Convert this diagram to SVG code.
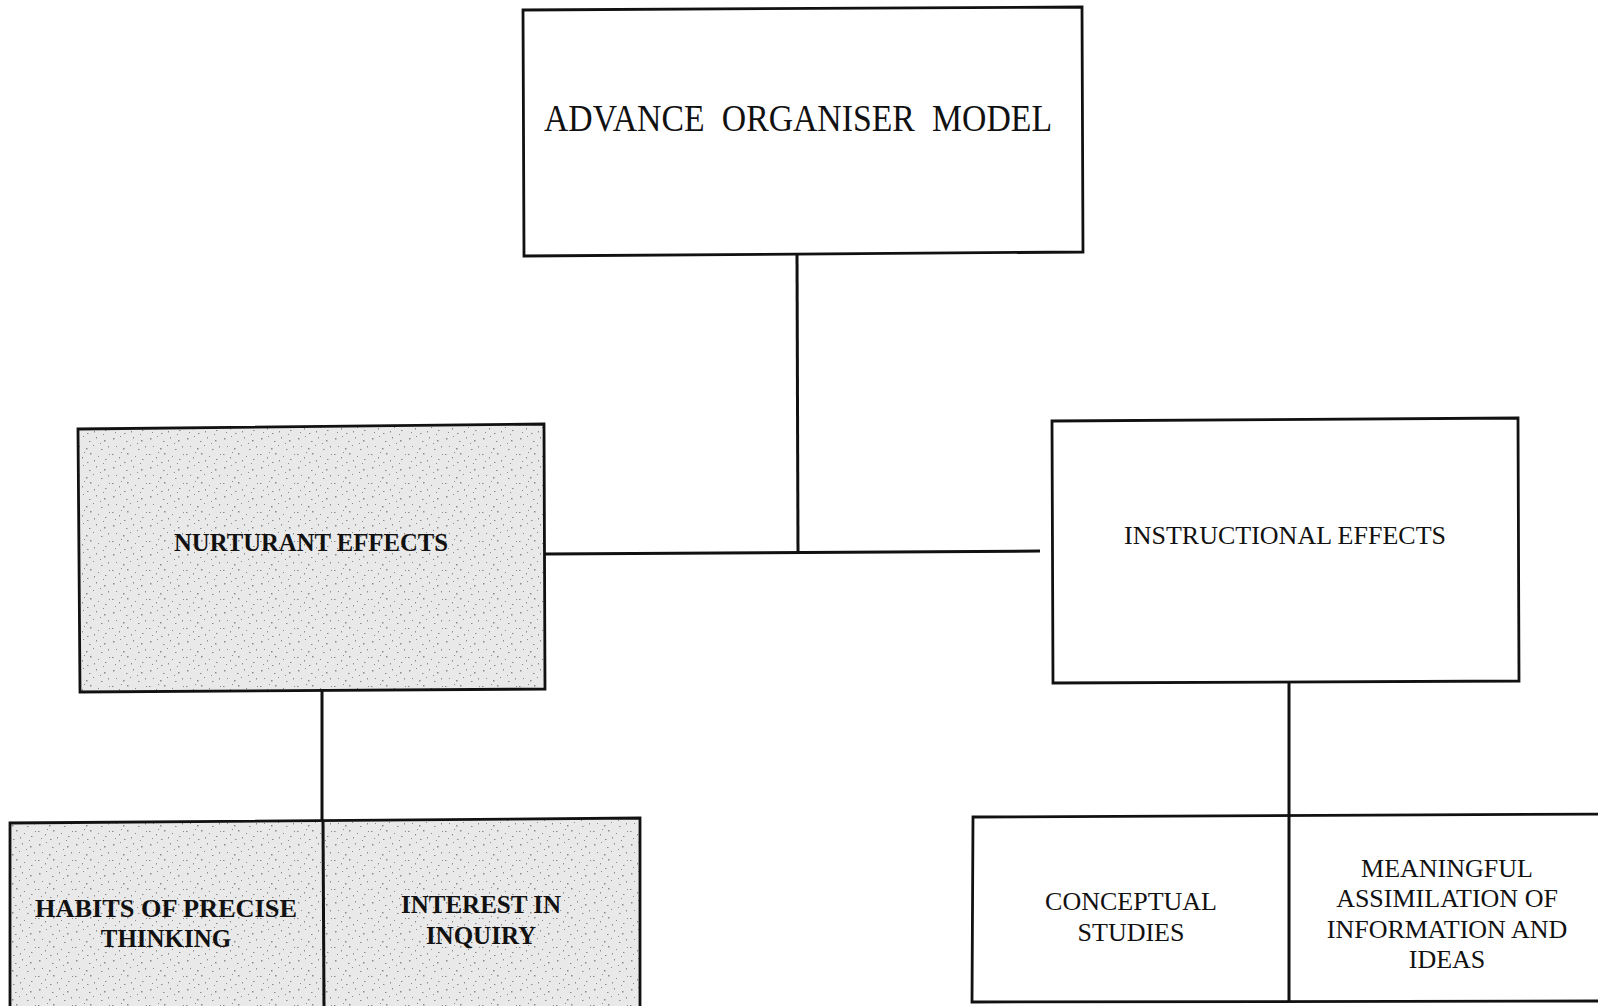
<svg xmlns="http://www.w3.org/2000/svg" width="1598" height="1006" viewBox="0 0 1598 1006">
<style>
  .box { fill: #ffffff; stroke: #111; stroke-width: 2.8; }
  .shaded { fill: url(#stipple); stroke: #111; stroke-width: 2.8; }
  .conn { stroke: #111; stroke-width: 3; fill: none; }
  .t { font-family: "Liberation Serif", "Times New Roman", serif; fill: #111; text-anchor: middle; }
  .big { font-size: 38px; word-spacing: 10px; }
  .reg { font-size: 26px; }
  .bold { font-size: 25px; font-weight: bold; }
</style>
<defs>
  <pattern id="stipple" width="37" height="29" patternUnits="userSpaceOnUse">
    <rect width="37" height="29" fill="#e9e9e9"/>
    <g fill="#8a8a8a">
      <rect x="2" y="3" width="1.5" height="1.5"/>
      <rect x="9" y="1" width="1" height="1"/>
      <rect x="15" y="6" width="1.5" height="1"/>
      <rect x="22" y="2" width="1" height="1.5"/>
      <rect x="30" y="5" width="1.5" height="1.5"/>
      <rect x="5" y="11" width="1" height="1"/>
      <rect x="12" y="13" width="1.5" height="1.5"/>
      <rect x="19" y="10" width="1" height="1"/>
      <rect x="27" y="14" width="1.5" height="1"/>
      <rect x="34" y="11" width="1" height="1.5"/>
      <rect x="1" y="19" width="1.5" height="1"/>
      <rect x="8" y="22" width="1" height="1.5"/>
      <rect x="16" y="18" width="1.5" height="1.5"/>
      <rect x="24" y="21" width="1" height="1"/>
      <rect x="31" y="24" width="1.5" height="1"/>
      <rect x="4" y="26" width="1" height="1"/>
      <rect x="13" y="27" width="1.5" height="1"/>
      <rect x="20" y="25" width="1" height="1.5"/>
      <rect x="35" y="19" width="1" height="1"/>
      <rect x="26" y="8" width="1" height="1"/>
      <rect x="10" y="17" width="1" height="1"/>
      <rect x="29" y="28" width="1" height="1"/>
    </g>
  </pattern>
</defs>

<g id="connectors">
  <line class="conn" x1="797" y1="254" x2="798" y2="552"/>
  <line class="conn" x1="545" y1="554" x2="1040" y2="551"/>
  <line class="conn" x1="322" y1="689" x2="322" y2="821"/>
  <line class="conn" x1="1289" y1="683" x2="1289" y2="814"/>
</g>

<g id="node-advance">
  <path class="box" d="M523,10 L1082,7 L1083,252 L524,256 Z"/>
  <text class="t big" x="798" y="131" textLength="508" lengthAdjust="spacingAndGlyphs">ADVANCE ORGANISER MODEL</text>
</g>

<g id="node-nurturant">
  <path class="shaded" d="M78,429 L544,424 L545,689 L80,692 Z"/>
  <text class="t bold" x="311" y="551" textLength="274" lengthAdjust="spacingAndGlyphs">NURTURANT EFFECTS</text>
</g>

<g id="node-instructional">
  <path class="box" d="M1052,421 L1518,418 L1519,681 L1053,683 Z"/>
  <text class="t reg" x="1285" y="544" textLength="322" lengthAdjust="spacingAndGlyphs">INSTRUCTIONAL EFFECTS</text>
</g>

<g id="node-nurturant-outcomes">
  <path class="shaded" d="M10,1010 L10,823 L640,818 L640,1010"/>
  <line class="conn" x1="323" y1="820" x2="324" y2="1006"/>
  <g id="node-habits">
    <text class="t bold" x="166" y="917" textLength="262" lengthAdjust="spacingAndGlyphs">HABITS OF PRECISE</text>
    <text class="t bold" x="166" y="947">THINKING</text>
  </g>
  <g id="node-interest">
    <text class="t bold" x="481" y="913">INTEREST IN</text>
    <text class="t bold" x="481" y="944">INQUIRY</text>
  </g>
</g>

<g id="node-instructional-outcomes">
  <path class="box" d="M1610,814 L973,817 L972,1002 L1610,1001"/>
  <line class="conn" x1="1289" y1="814" x2="1289" y2="1001"/>
  <g id="node-conceptual">
    <text class="t reg" x="1131" y="910">CONCEPTUAL</text>
    <text class="t reg" x="1131" y="941">STUDIES</text>
  </g>
  <g id="node-meaningful">
    <text class="t reg" x="1447" y="877">MEANINGFUL</text>
    <text class="t reg" x="1447" y="907">ASSIMILATION OF</text>
    <text class="t reg" x="1447" y="938">INFORMATION AND</text>
    <text class="t reg" x="1447" y="968">IDEAS</text>
  </g>
</g>
</svg>
